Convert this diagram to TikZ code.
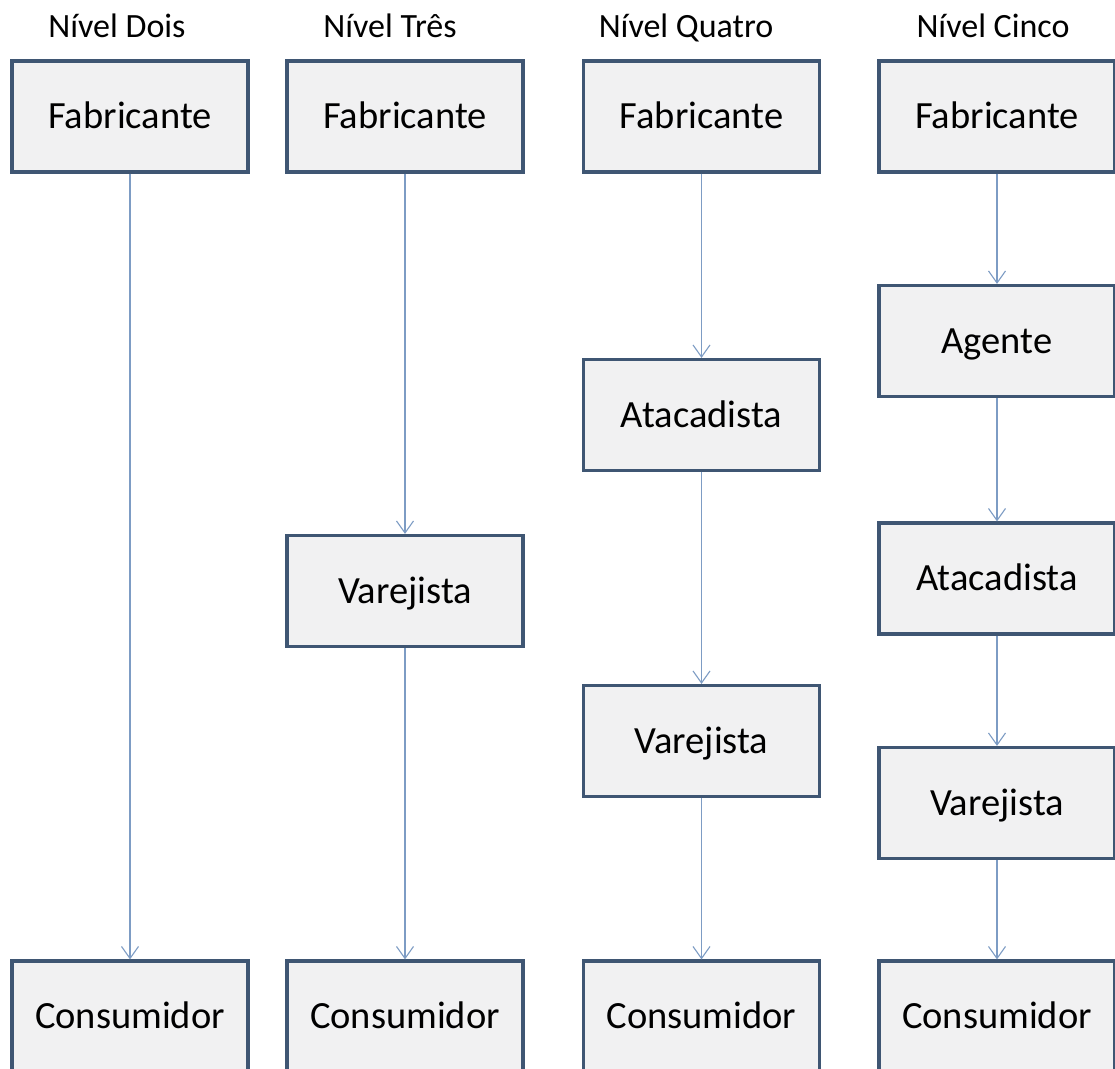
\documentclass[tikz,border=0pt]{standalone}
\usepackage{fontspec}
\setmainfont{Carlito}
\usetikzlibrary{arrows.meta}
\definecolor{boxfill}{HTML}{F1F1F2}
\definecolor{boxline}{HTML}{3F5673}
\definecolor{arrowc}{HTML}{7D9CC4}
\tikzset{
  chbox/.style={rectangle, draw=boxline, fill=boxfill, line width=3.2pt,
    minimum width=236pt, minimum height=111pt, inner sep=0pt,
    font=\fontsize{38.5}{40}\selectfont, text height=24.8pt, text depth=0pt},
  head/.style={font=\fontsize{34}{36}\selectfont, inner sep=0pt, text height=21.9pt, text depth=0pt},
  flow/.style={draw=arrowc, line width=1.3pt, -{Straight Barb[length=12pt,width=17pt,line width=1.1pt]}}
}
\begin{document}
\begin{tikzpicture}[x=1pt,y=-1pt]
\useasboundingbox (0,0) rectangle (1115,1068);
\clip (0,0) rectangle (1115,1068);
\fill[white] (0,0) rectangle (1115,1068);
% headings
\node[head] (h1) at (117,27) {Nível Dois};
\node[head] (h2) at (390,27) {Nível Três};
\node[head] (h3) at (686,27) {Nível Quatro};
\node[head] (h4) at (993,27) {Nível Cinco};
% column 1
\node[chbox] (f1) at (130,116.5) {Fabricante};
\node[chbox] (c1) at (130,1016.5) {Consumidor};
% column 2
\node[chbox] (f2) at (405,116.5) {Fabricante};
\node[chbox] (v2) at (405,591) {Varejista};
\node[chbox] (c2) at (405,1016.5) {Consumidor};
% column 3
\node[chbox] (f3) at (701.5,116.5) {Fabricante};
\node[chbox] (a3) at (701.5,415) {Atacadista};
\node[chbox] (v3) at (701.5,741) {Varejista};
\node[chbox] (c3) at (701.5,1016.5) {Consumidor};
% column 4
\node[chbox] (f4) at (997,116.5) {Fabricante};
\node[chbox] (g4) at (997,341) {Agente};
\node[chbox] (a4) at (997,578.5) {Atacadista};
\node[chbox] (v4) at (997,803) {Varejista};
\node[chbox] (c4) at (997,1016.5) {Consumidor};
% arrows
\draw[flow] (f1.south) -- (c1.north);
\draw[flow] (f2.south) -- (v2.north);
\draw[flow] (v2.south) -- (c2.north);
\draw[flow] (f3.south) -- (a3.north);
\draw[flow] (a3.south) -- (v3.north);
\draw[flow] (v3.south) -- (c3.north);
\draw[flow] (f4.south) -- (g4.north);
\draw[flow] (g4.south) -- (a4.north);
\draw[flow] (a4.south) -- (v4.north);
\draw[flow] (v4.south) -- (c4.north);
\end{tikzpicture}
\end{document}
